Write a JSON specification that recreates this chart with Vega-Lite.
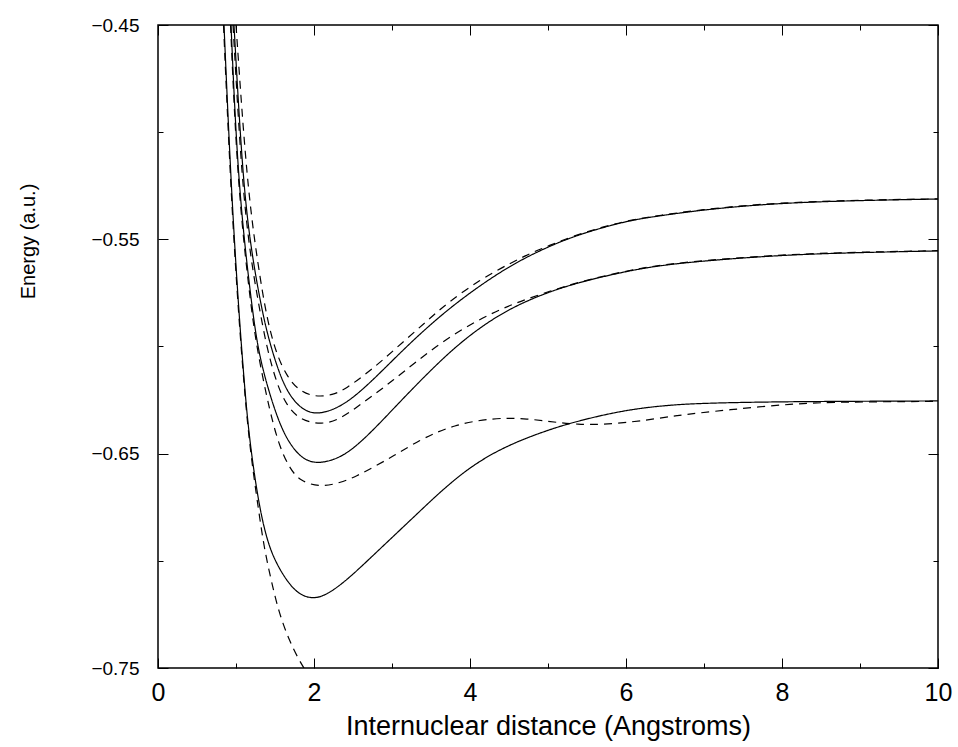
{
  "$schema": "https://vega.github.io/schema/vega-lite/v6.json",
  "width": 780,
  "height": 643,
  "autosize": {"type": "none"},
  "padding": {"left": 158, "top": 25, "right": 20, "bottom": 79},
  "background": "white",
  "config": {
    "view": {"stroke": "black", "strokeWidth": 1.5},
    "axis": {"grid": false, "domain": false, "labelColor": "black", "titleColor": "black", "tickColor": "black", "labelFont": "Liberation Sans", "titleFont": "Liberation Sans", "titleFontWeight": "normal", "labelFlush": false, "labelOverlap": false}
  },
  "data": {
    "values": [
      {"curve": "s1", "style": "solid", "r": 0.846, "E": -0.45},
      {"curve": "s1", "style": "solid", "r": 0.936, "E": -0.5247},
      {"curve": "s1", "style": "solid", "r": 1.026, "E": -0.5783},
      {"curve": "s1", "style": "solid", "r": 1.09, "E": -0.6096},
      {"curve": "s1", "style": "solid", "r": 1.154, "E": -0.6376},
      {"curve": "s1", "style": "solid", "r": 1.244, "E": -0.6623},
      {"curve": "s1", "style": "solid", "r": 1.333, "E": -0.6809},
      {"curve": "s1", "style": "solid", "r": 1.436, "E": -0.6949},
      {"curve": "s1", "style": "solid", "r": 1.564, "E": -0.7043},
      {"curve": "s1", "style": "solid", "r": 1.692, "E": -0.7113},
      {"curve": "s1", "style": "solid", "r": 1.821, "E": -0.7159},
      {"curve": "s1", "style": "solid", "r": 1.987, "E": -0.7178},
      {"curve": "s1", "style": "solid", "r": 2.167, "E": -0.7159},
      {"curve": "s1", "style": "solid", "r": 2.423, "E": -0.7089},
      {"curve": "s1", "style": "solid", "r": 2.679, "E": -0.7002},
      {"curve": "s1", "style": "solid", "r": 3.103, "E": -0.6856},
      {"curve": "s1", "style": "solid", "r": 3.359, "E": -0.6768},
      {"curve": "s1", "style": "solid", "r": 3.577, "E": -0.6693},
      {"curve": "s1", "style": "solid", "r": 3.782, "E": -0.6628},
      {"curve": "s1", "style": "solid", "r": 4.0, "E": -0.6565},
      {"curve": "s1", "style": "solid", "r": 4.295, "E": -0.6497},
      {"curve": "s1", "style": "solid", "r": 4.641, "E": -0.6438},
      {"curve": "s1", "style": "solid", "r": 4.987, "E": -0.6392},
      {"curve": "s1", "style": "solid", "r": 5.244, "E": -0.6362},
      {"curve": "s1", "style": "solid", "r": 5.667, "E": -0.6322},
      {"curve": "s1", "style": "solid", "r": 6.09, "E": -0.6292},
      {"curve": "s1", "style": "solid", "r": 6.526, "E": -0.6274},
      {"curve": "s1", "style": "solid", "r": 6.949, "E": -0.6265},
      {"curve": "s1", "style": "solid", "r": 7.718, "E": -0.6259},
      {"curve": "s1", "style": "solid", "r": 8.6, "E": -0.6256},
      {"curve": "s1", "style": "solid", "r": 10, "E": -0.6254},

      {"curve": "s2", "style": "solid", "r": 0.936, "E": -0.45},
      {"curve": "s2", "style": "solid", "r": 1.026, "E": -0.5247},
      {"curve": "s2", "style": "solid", "r": 1.192, "E": -0.5783},
      {"curve": "s2", "style": "solid", "r": 1.282, "E": -0.6016},
      {"curve": "s2", "style": "solid", "r": 1.397, "E": -0.618},
      {"curve": "s2", "style": "solid", "r": 1.526, "E": -0.6329},
      {"curve": "s2", "style": "solid", "r": 1.654, "E": -0.6436},
      {"curve": "s2", "style": "solid", "r": 1.821, "E": -0.6516},
      {"curve": "s2", "style": "solid", "r": 1.987, "E": -0.6544},
      {"curve": "s2", "style": "solid", "r": 2.167, "E": -0.6539},
      {"curve": "s2", "style": "solid", "r": 2.372, "E": -0.6511},
      {"curve": "s2", "style": "solid", "r": 2.59, "E": -0.645},
      {"curve": "s2", "style": "solid", "r": 2.846, "E": -0.6357},
      {"curve": "s2", "style": "solid", "r": 3.103, "E": -0.6258},
      {"curve": "s2", "style": "solid", "r": 3.269, "E": -0.6195},
      {"curve": "s2", "style": "solid", "r": 3.705, "E": -0.6035},
      {"curve": "s2", "style": "solid", "r": 4.128, "E": -0.5909},
      {"curve": "s2", "style": "solid", "r": 4.551, "E": -0.5815},
      {"curve": "s2", "style": "solid", "r": 4.987, "E": -0.5748},
      {"curve": "s2", "style": "solid", "r": 5.41, "E": -0.5699},
      {"curve": "s2", "style": "solid", "r": 6.013, "E": -0.5648},
      {"curve": "s2", "style": "solid", "r": 6.436, "E": -0.5622},
      {"curve": "s2", "style": "solid", "r": 6.949, "E": -0.5602},
      {"curve": "s2", "style": "solid", "r": 7.808, "E": -0.5578},
      {"curve": "s2", "style": "solid", "r": 8.654, "E": -0.5564},
      {"curve": "s2", "style": "solid", "r": 10, "E": -0.5554},

      {"curve": "s3", "style": "solid", "r": 0.974, "E": -0.45},
      {"curve": "s3", "style": "solid", "r": 1.09, "E": -0.5247},
      {"curve": "s3", "style": "solid", "r": 1.205, "E": -0.5573},
      {"curve": "s3", "style": "solid", "r": 1.308, "E": -0.5783},
      {"curve": "s3", "style": "solid", "r": 1.397, "E": -0.5937},
      {"curve": "s3", "style": "solid", "r": 1.526, "E": -0.6096},
      {"curve": "s3", "style": "solid", "r": 1.654, "E": -0.6212},
      {"curve": "s3", "style": "solid", "r": 1.821, "E": -0.6287},
      {"curve": "s3", "style": "solid", "r": 1.987, "E": -0.6315},
      {"curve": "s3", "style": "solid", "r": 2.167, "E": -0.6306},
      {"curve": "s3", "style": "solid", "r": 2.372, "E": -0.6273},
      {"curve": "s3", "style": "solid", "r": 2.59, "E": -0.6212},
      {"curve": "s3", "style": "solid", "r": 2.846, "E": -0.6124},
      {"curve": "s3", "style": "solid", "r": 3.269, "E": -0.597},
      {"curve": "s3", "style": "solid", "r": 3.705, "E": -0.583},
      {"curve": "s3", "style": "solid", "r": 4.128, "E": -0.5715},
      {"curve": "s3", "style": "solid", "r": 4.551, "E": -0.5615},
      {"curve": "s3", "style": "solid", "r": 4.987, "E": -0.5536},
      {"curve": "s3", "style": "solid", "r": 5.41, "E": -0.5475},
      {"curve": "s3", "style": "solid", "r": 6.013, "E": -0.5413},
      {"curve": "s3", "style": "solid", "r": 6.436, "E": -0.539},
      {"curve": "s3", "style": "solid", "r": 6.949, "E": -0.5364},
      {"curve": "s3", "style": "solid", "r": 7.718, "E": -0.5337},
      {"curve": "s3", "style": "solid", "r": 8.654, "E": -0.5321},
      {"curve": "s3", "style": "solid", "r": 10, "E": -0.5312},

      {"curve": "d1", "style": "dashed", "r": 1.0, "E": -0.45},
      {"curve": "d1", "style": "dashed", "r": 1.141, "E": -0.5247},
      {"curve": "d1", "style": "dashed", "r": 1.282, "E": -0.562},
      {"curve": "d1", "style": "dashed", "r": 1.397, "E": -0.5876},
      {"curve": "d1", "style": "dashed", "r": 1.526, "E": -0.6044},
      {"curve": "d1", "style": "dashed", "r": 1.654, "E": -0.6138},
      {"curve": "d1", "style": "dashed", "r": 1.782, "E": -0.6198},
      {"curve": "d1", "style": "dashed", "r": 1.987, "E": -0.6236},
      {"curve": "d1", "style": "dashed", "r": 2.244, "E": -0.6228},
      {"curve": "d1", "style": "dashed", "r": 2.423, "E": -0.6193},
      {"curve": "d1", "style": "dashed", "r": 2.628, "E": -0.6138},
      {"curve": "d1", "style": "dashed", "r": 2.846, "E": -0.6075},
      {"curve": "d1", "style": "dashed", "r": 3.141, "E": -0.5979},
      {"curve": "d1", "style": "dashed", "r": 3.449, "E": -0.5881},
      {"curve": "d1", "style": "dashed", "r": 3.705, "E": -0.5798},
      {"curve": "d1", "style": "dashed", "r": 4.128, "E": -0.5688},
      {"curve": "d1", "style": "dashed", "r": 4.513, "E": -0.5612},
      {"curve": "d1", "style": "dashed", "r": 4.769, "E": -0.5566},
      {"curve": "d1", "style": "dashed", "r": 4.987, "E": -0.5533},
      {"curve": "d1", "style": "dashed", "r": 5.41, "E": -0.5472},
      {"curve": "d1", "style": "dashed", "r": 6.013, "E": -0.5411},
      {"curve": "d1", "style": "dashed", "r": 6.436, "E": -0.5388},
      {"curve": "d1", "style": "dashed", "r": 6.949, "E": -0.5362},
      {"curve": "d1", "style": "dashed", "r": 7.718, "E": -0.5335},
      {"curve": "d1", "style": "dashed", "r": 8.654, "E": -0.5319},
      {"curve": "d1", "style": "dashed", "r": 10, "E": -0.5311},

      {"curve": "d2", "style": "dashed", "r": 0.962, "E": -0.45},
      {"curve": "d2", "style": "dashed", "r": 1.077, "E": -0.5247},
      {"curve": "d2", "style": "dashed", "r": 1.192, "E": -0.5596},
      {"curve": "d2", "style": "dashed", "r": 1.282, "E": -0.5783},
      {"curve": "d2", "style": "dashed", "r": 1.385, "E": -0.5993},
      {"curve": "d2", "style": "dashed", "r": 1.526, "E": -0.618},
      {"curve": "d2", "style": "dashed", "r": 1.654, "E": -0.6278},
      {"curve": "d2", "style": "dashed", "r": 1.821, "E": -0.6343},
      {"curve": "d2", "style": "dashed", "r": 2.103, "E": -0.6366},
      {"curve": "d2", "style": "dashed", "r": 2.333, "E": -0.6338},
      {"curve": "d2", "style": "dashed", "r": 2.526, "E": -0.6289},
      {"curve": "d2", "style": "dashed", "r": 2.744, "E": -0.6232},
      {"curve": "d2", "style": "dashed", "r": 3.013, "E": -0.6158},
      {"curve": "d2", "style": "dashed", "r": 3.295, "E": -0.6075},
      {"curve": "d2", "style": "dashed", "r": 3.654, "E": -0.5975},
      {"curve": "d2", "style": "dashed", "r": 4.09, "E": -0.5878},
      {"curve": "d2", "style": "dashed", "r": 4.513, "E": -0.5806},
      {"curve": "d2", "style": "dashed", "r": 4.936, "E": -0.5752},
      {"curve": "d2", "style": "dashed", "r": 5.41, "E": -0.5697},
      {"curve": "d2", "style": "dashed", "r": 6.013, "E": -0.5646},
      {"curve": "d2", "style": "dashed", "r": 6.436, "E": -0.562},
      {"curve": "d2", "style": "dashed", "r": 6.949, "E": -0.56},
      {"curve": "d2", "style": "dashed", "r": 7.808, "E": -0.5576},
      {"curve": "d2", "style": "dashed", "r": 8.654, "E": -0.5562},
      {"curve": "d2", "style": "dashed", "r": 10, "E": -0.5553},

      {"curve": "d3", "style": "dashed", "r": 0.93, "E": -0.45},
      {"curve": "d3", "style": "dashed", "r": 1.02, "E": -0.5247},
      {"curve": "d3", "style": "dashed", "r": 1.18, "E": -0.5783},
      {"curve": "d3", "style": "dashed", "r": 1.27, "E": -0.6016},
      {"curve": "d3", "style": "dashed", "r": 1.436, "E": -0.631},
      {"curve": "d3", "style": "dashed", "r": 1.564, "E": -0.6475},
      {"curve": "d3", "style": "dashed", "r": 1.692, "E": -0.657},
      {"curve": "d3", "style": "dashed", "r": 1.821, "E": -0.6628},
      {"curve": "d3", "style": "dashed", "r": 2.077, "E": -0.6656},
      {"curve": "d3", "style": "dashed", "r": 2.333, "E": -0.6637},
      {"curve": "d3", "style": "dashed", "r": 2.551, "E": -0.6604},
      {"curve": "d3", "style": "dashed", "r": 2.756, "E": -0.6564},
      {"curve": "d3", "style": "dashed", "r": 2.974, "E": -0.652},
      {"curve": "d3", "style": "dashed", "r": 3.103, "E": -0.6492},
      {"curve": "d3", "style": "dashed", "r": 3.359, "E": -0.6437},
      {"curve": "d3", "style": "dashed", "r": 3.577, "E": -0.6399},
      {"curve": "d3", "style": "dashed", "r": 3.808, "E": -0.6369},
      {"curve": "d3", "style": "dashed", "r": 4.026, "E": -0.635},
      {"curve": "d3", "style": "dashed", "r": 4.295, "E": -0.6337},
      {"curve": "d3", "style": "dashed", "r": 4.513, "E": -0.6334},
      {"curve": "d3", "style": "dashed", "r": 4.731, "E": -0.6338},
      {"curve": "d3", "style": "dashed", "r": 4.936, "E": -0.6346},
      {"curve": "d3", "style": "dashed", "r": 5.154, "E": -0.6356},
      {"curve": "d3", "style": "dashed", "r": 5.372, "E": -0.6363},
      {"curve": "d3", "style": "dashed", "r": 5.667, "E": -0.6365},
      {"curve": "d3", "style": "dashed", "r": 6.09, "E": -0.6352},
      {"curve": "d3", "style": "dashed", "r": 6.397, "E": -0.6336},
      {"curve": "d3", "style": "dashed", "r": 6.654, "E": -0.6322},
      {"curve": "d3", "style": "dashed", "r": 6.91, "E": -0.6311},
      {"curve": "d3", "style": "dashed", "r": 7.333, "E": -0.6295},
      {"curve": "d3", "style": "dashed", "r": 7.808, "E": -0.6278},
      {"curve": "d3", "style": "dashed", "r": 8.269, "E": -0.6265},
      {"curve": "d3", "style": "dashed", "r": 8.74, "E": -0.6259},
      {"curve": "d3", "style": "dashed", "r": 10, "E": -0.6256},

      {"curve": "d4", "style": "dashed", "r": 0.84, "E": -0.45},
      {"curve": "d4", "style": "dashed", "r": 0.93, "E": -0.5247},
      {"curve": "d4", "style": "dashed", "r": 1.02, "E": -0.5783},
      {"curve": "d4", "style": "dashed", "r": 1.085, "E": -0.6096},
      {"curve": "d4", "style": "dashed", "r": 1.15, "E": -0.6376},
      {"curve": "d4", "style": "dashed", "r": 1.22, "E": -0.6585},
      {"curve": "d4", "style": "dashed", "r": 1.295, "E": -0.6777},
      {"curve": "d4", "style": "dashed", "r": 1.359, "E": -0.6935},
      {"curve": "d4", "style": "dashed", "r": 1.449, "E": -0.7089},
      {"curve": "d4", "style": "dashed", "r": 1.551, "E": -0.7243},
      {"curve": "d4", "style": "dashed", "r": 1.679, "E": -0.7369},
      {"curve": "d4", "style": "dashed", "r": 1.808, "E": -0.7463},
      {"curve": "d4", "style": "dashed", "r": 1.872, "E": -0.75},
      {"curve": "d4", "style": "dashed", "r": 1.95, "E": -0.755}
    ]
  },
  "resolve": {"axis": {"x": "independent", "y": "independent"}},
  "layer": [
    {
      "mark": {"type": "line", "color": "black", "strokeWidth": 1.2, "interpolate": "basis", "clip": true},
      "encoding": {
        "x": {"field": "r", "type": "quantitative", "scale": {"domain": [0, 10], "nice": false, "zero": false},
          "axis": {"orient": "bottom", "values": [0, 2, 4, 6, 8, 10], "ticks": false, "labelFontSize": 25, "labelPadding": 12,
            "title": "Internuclear distance (Angstroms)", "titleFontSize": 27, "titleBaseline": "middle", "titleY": 58}},
        "y": {"field": "E", "type": "quantitative", "scale": {"domain": [-0.75, -0.45], "nice": false, "zero": false},
          "axis": {"orient": "left", "values": [-0.75, -0.65, -0.55, -0.45], "format": ".2f", "ticks": false, "labelFontSize": 19, "labelPadding": 19,
            "title": "Energy (a.u.)", "titleFontSize": 20, "titleBaseline": "middle", "titleAlign": "center", "titleAngle": 270, "titleX": -130, "titleY": 216}},
        "detail": {"field": "curve"},
        "strokeDash": {"field": "style", "type": "nominal", "scale": {"domain": ["solid", "dashed"], "range": [[1, 0], [8, 6]]}, "legend": null}
      }
    },
    {
      "mark": {"type": "point", "opacity": 0},
      "encoding": {
        "x": {"field": "r", "type": "quantitative", "axis": {"orient": "bottom", "values": [0, 2, 4, 6, 8, 10], "labels": false, "tickSize": -10, "tickWidth": 1, "title": null}},
        "y": {"field": "E", "type": "quantitative", "axis": {"orient": "left", "values": [-0.75, -0.65, -0.55, -0.45], "labels": false, "tickSize": -10, "tickWidth": 1, "title": null}}
      }
    },
    {
      "mark": {"type": "point", "opacity": 0},
      "encoding": {
        "x": {"field": "r", "type": "quantitative", "axis": {"orient": "top", "values": [0, 2, 4, 6, 8, 10], "labels": false, "tickSize": -10, "tickWidth": 1, "title": null}},
        "y": {"field": "E", "type": "quantitative", "axis": {"orient": "right", "values": [-0.75, -0.65, -0.55, -0.45], "labels": false, "tickSize": -10, "tickWidth": 1, "title": null}}
      }
    },
    {
      "mark": {"type": "point", "opacity": 0},
      "encoding": {
        "x": {"field": "r", "type": "quantitative", "axis": {"orient": "bottom", "values": [1, 3, 5, 7, 9], "labels": false, "tickSize": -5, "tickWidth": 1, "title": null}},
        "y": {"field": "E", "type": "quantitative", "axis": {"orient": "left", "values": [-0.7, -0.6, -0.5], "labels": false, "tickSize": -5, "tickWidth": 1, "title": null}}
      }
    },
    {
      "mark": {"type": "point", "opacity": 0},
      "encoding": {
        "x": {"field": "r", "type": "quantitative", "axis": {"orient": "top", "values": [1, 3, 5, 7, 9], "labels": false, "tickSize": -5, "tickWidth": 1, "title": null}},
        "y": {"field": "E", "type": "quantitative", "axis": {"orient": "right", "values": [-0.7, -0.6, -0.5], "labels": false, "tickSize": -5, "tickWidth": 1, "title": null}}
      }
    }
  ]
}
